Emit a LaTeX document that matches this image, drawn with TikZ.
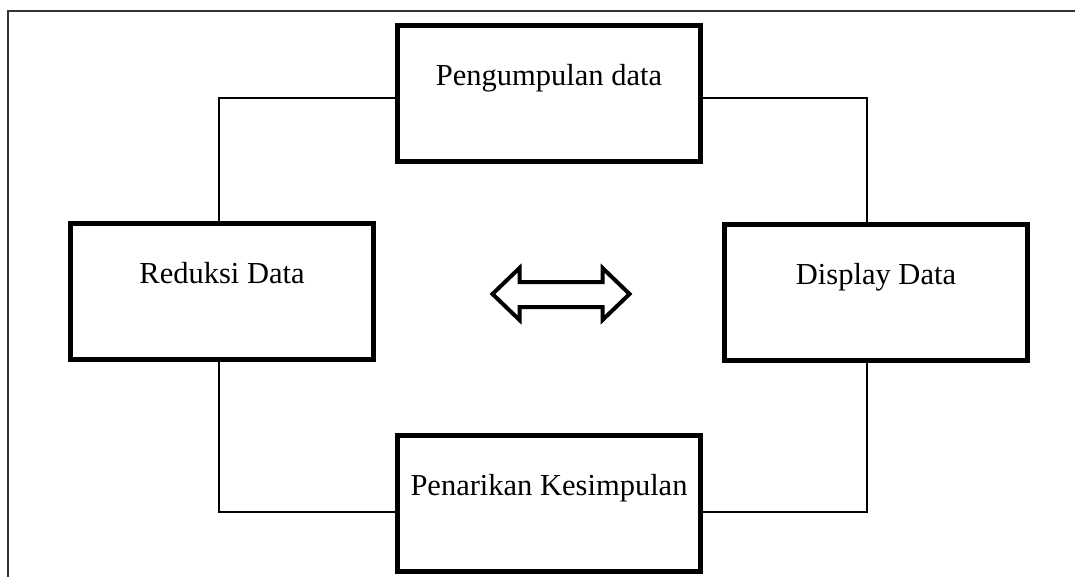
\documentclass[tikz,border=0pt]{standalone}
\usepackage{fontspec}
\setmainfont{Liberation Serif}
\usepackage{tikz}
\usetikzlibrary{positioning}

\begin{document}
\begin{tikzpicture}[x=1pt, y=-1pt,
  stage/.style={draw, line width=5pt, minimum width=303pt,
                minimum height=136pt, text height=22pt, text depth=38pt,
                font=\fontsize{30.5}{36}\selectfont},
  link/.style={draw, line width=2pt},
  frame/.style={draw=black!80, line width=1.5pt}
]
  \useasboundingbox (0,0) rectangle (1075,577);
  \draw[frame] (1075,11) -- (8,11) -- (8,577);

  \node[stage] (PD) at (549,94)    {Pengumpulan data};
  \node[stage] (RD) at (222,291.5) {Reduksi Data};
  \node[stage] (DD) at (876,292.5) {Display Data};
  \node[stage] (PK) at (549,503.5) {Penarikan Kesimpulan};

  \draw[link] ([xshift=-3pt]RD.north) |- ([yshift=-4pt]PD.west);
  \draw[link] ([xshift=-9pt]DD.north) |- ([yshift=-4pt]PD.east);
  \draw[link] ([xshift=-3pt]RD.south) |- ([yshift=-8pt]PK.west);
  \draw[link] ([xshift=-9pt]DD.south) |- ([yshift=-8pt]PK.east);

  % two-way arrow in the middle
  \coordinate (mid) at (560.5,294);
  \draw[line width=4pt, line join=miter]
    (mid) ++(-68,0) -- ++(27,-26) -- ++(0,14) -- ++(83,0) -- ++(0,-14)
    -- ++(27,26) -- ++(-27,26) -- ++(0,-13) -- ++(-83,0) -- ++(0,13) -- cycle;
\end{tikzpicture}
\end{document}
